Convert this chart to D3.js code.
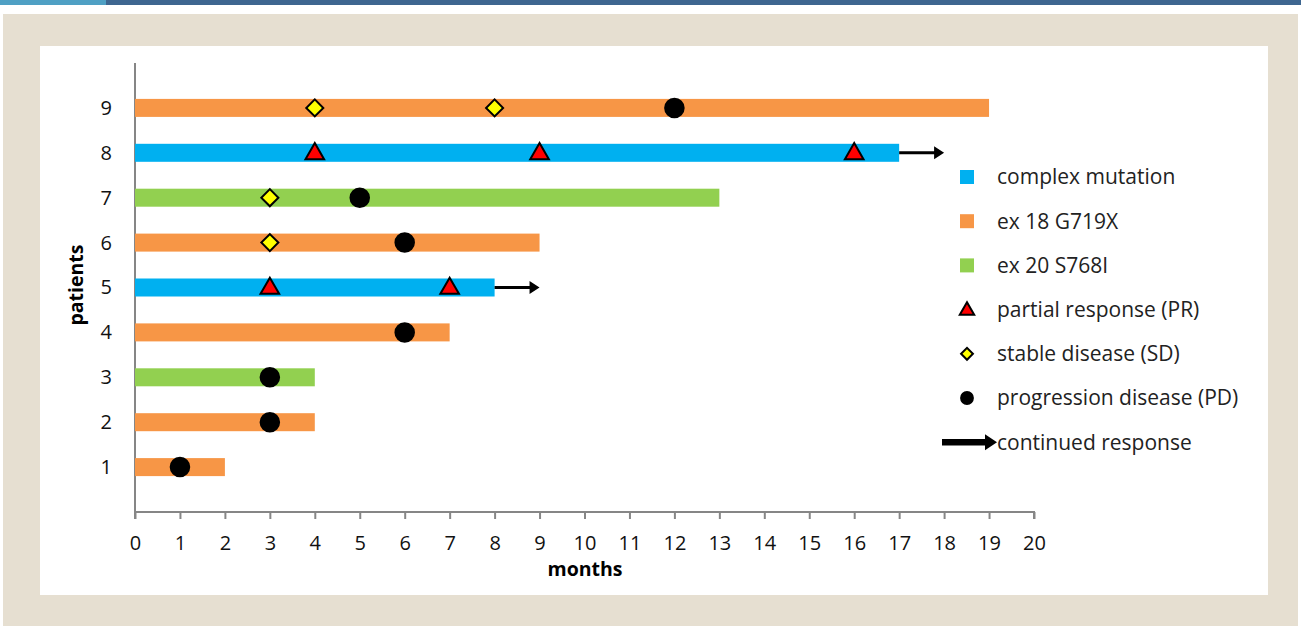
<!DOCTYPE html>
<html>
<head>
<meta charset="utf-8">
<script src="https://cdn.jsdelivr.net/npm/d3@7"></script>
<style>
  body { margin: 0; background: #fff; }
  svg { display: block; }
</style>
</head>
<body>
<script>
// patients, bar lengths and groups
let patients = [1, 2, 3, 4, 5, 6, 7, 8, 9]
let months = [2, 4, 4, 7, 8, 9, 13, 17, 19]
let groups = ["ex18", "ex18", "ex20", "ex18", "complex", "ex18", "ex20", "complex", "ex18"]
let continued = [false, false, false, false, true, false, false, true, false]

// response events: [patient, month]
let prEvents = [[5, 3], [5, 7], [8, 4], [8, 9], [8, 16]]
let sdEvents = [[6, 3], [7, 3], [9, 4], [9, 8]]
let pdEvents = [[1, 1], [2, 3], [3, 3], [4, 6], [6, 6], [7, 5], [9, 12]]

let xTicks = d3.range(0, 21)
let yTicks = patients

let width = 1301, height = 626
let font = "'Open Sans', 'Noto Sans', sans-serif"

let colors = { complex: "#00b0f0", ex18: "#f79646", ex20: "#92d050" }

let svg = d3.select("body").append("svg")
    .attr("width", width)
    .attr("height", height)

// page frame
svg.append("rect").attr("x", 0).attr("y", 0).attr("width", width).attr("height", 5).attr("fill", "#3e6690")
svg.append("rect").attr("x", 0).attr("y", 0).attr("width", 106).attr("height", 5).attr("fill", "#4fa0c4")
svg.append("rect").attr("x", 3).attr("y", 14).attr("width", 1295).attr("height", 612).attr("fill", "#e6dfd1")
svg.append("rect").attr("x", 40).attr("y", 46).attr("width", 1228).attr("height", 549).attr("fill", "#fff")

let x = d3.scaleLinear().domain([0, 20]).range([135, 1034])
let y = d3.scaleLinear().domain([0, 10]).range([512, 63])
let barH = 18

// axes
let xAxis = svg.append("g")
    .attr("transform", `translate(0,${y(0)})`)
    .call(d3.axisBottom(x).tickValues(xTicks).tickSize(7).tickPadding(17).tickFormat(d3.format("d")))
xAxis.select(".domain").attr("stroke", "#868686").attr("stroke-width", 2).attr("d", `M${x(0)},7V0H${x(20)}V7`)
xAxis.selectAll(".tick line").attr("stroke", "#868686").attr("stroke-width", 2)
xAxis.selectAll(".tick text").attr("font-family", font).attr("font-size", 20).attr("fill", "#111")

let yAxis = svg.append("g")
    .attr("transform", `translate(${x(0)},0)`)
    .call(d3.axisLeft(y).tickValues(yTicks).tickSize(0).tickPadding(23).tickFormat(d3.format("d")))
yAxis.select(".domain").attr("stroke", "#868686").attr("stroke-width", 2).attr("d", `M0,${y(10)}V${y(0)}`)
yAxis.selectAll(".tick text").attr("font-family", font).attr("font-size", 20).attr("fill", "#111")

svg.append("text")
    .attr("x", 585).attr("y", 576)
    .attr("text-anchor", "middle")
    .attr("font-family", font).attr("font-size", 19.5).attr("font-weight", "bold")
    .text("months")

svg.append("text")
    .attr("transform", `translate(83,285) rotate(-90)`)
    .attr("text-anchor", "middle")
    .attr("font-family", font).attr("font-size", 19.5).attr("font-weight", "bold")
    .text("patients")

// bars
svg.append("g").selectAll("rect")
    .data(patients)
    .join("rect")
    .attr("x", x(0))
    .attr("y", (d) => y(d) - barH / 2)
    .attr("width", (d, i) => x(months[i]) - x(0))
    .attr("height", barH)
    .attr("fill", (d, i) => colors[groups[i]])

// arrow: shaft + head drawn as one path
function arrowPath(x0, x1, cy, shaft, headL, headH) {
    let s = shaft / 2, h = headH / 2, xh = x1 - headL
    return `M${x0},${cy - s}H${xh}V${cy - h}L${x1},${cy}L${xh},${cy + h}V${cy + s}H${x0}Z`
}

svg.append("g").selectAll("path")
    .data(patients.filter((d, i) => continued[i]))
    .join("path")
    .attr("d", (d) => arrowPath(x(months[d - 1]), x(months[d - 1] + 1), y(d), 3, 10, 13))
    .attr("fill", "#000")

// event markers
let triangle = d3.symbol().type(d3.symbolTriangle).size(150)
let diamond = d3.symbol().type(d3.symbolSquare).size(145)
let circle = d3.symbol().type(d3.symbolCircle).size(270)

function drawMarkers(events, sym, fill, extra) {
    svg.append("g").selectAll("path")
        .data(events)
        .join("path")
        .attr("d", sym)
        .attr("transform", (d) => `translate(${x(d[1])},${y(d[0]) + (extra || 0)}) ${sym === diamond ? "rotate(45)" : ""}`)
        .attr("fill", fill)
        .attr("stroke", "#000")
        .attr("stroke-width", 2)
}
drawMarkers(pdEvents, circle, "#000")
drawMarkers(sdEvents, diamond, "#ffff00")
drawMarkers(prEvents, triangle, "#ff0000", 1)

// legend
let legendItems = [
    { label: "complex mutation", kind: "bar", color: colors.complex },
    { label: "ex 18 G719X", kind: "bar", color: colors.ex18 },
    { label: "ex 20 S768I", kind: "bar", color: colors.ex20 },
    { label: "partial response (PR)", kind: "pr" },
    { label: "stable disease (SD)", kind: "sd" },
    { label: "progression disease (PD)", kind: "pd" },
    { label: "continued response", kind: "arrow" }
]
let legend = svg.append("g")
    .selectAll("g")
    .data(legendItems)
    .join("g")
    .attr("transform", (d, i) => `translate(967,${177 + i * 44.2})`)

legend.filter((d) => d.kind === "bar").append("rect")
    .attr("x", -7).attr("y", -7).attr("width", 14).attr("height", 14)
    .attr("fill", (d) => d.color)
legend.filter((d) => d.kind === "pr").append("path")
    .attr("d", d3.symbol().type(d3.symbolTriangle).size(90)).attr("transform", "translate(0,1)")
    .attr("fill", "#ff0000").attr("stroke", "#000").attr("stroke-width", 2)
legend.filter((d) => d.kind === "sd").append("path")
    .attr("d", d3.symbol().type(d3.symbolSquare).size(70)).attr("transform", "rotate(45)")
    .attr("fill", "#ffff00").attr("stroke", "#000").attr("stroke-width", 2)
legend.filter((d) => d.kind === "pd").append("path")
    .attr("d", d3.symbol().type(d3.symbolCircle).size(150))
    .attr("fill", "#000")
legend.filter((d) => d.kind === "arrow").append("path")
    .attr("d", arrowPath(-25, 30, 0, 6.5, 12, 16))
    .attr("fill", "#000")

legend.append("text")
    .attr("x", 30).attr("dy", "0.35em")
    .attr("font-family", font).attr("font-size", 21).attr("fill", "#222")
    .text((d) => d.label)
</script>
</body>
</html>
